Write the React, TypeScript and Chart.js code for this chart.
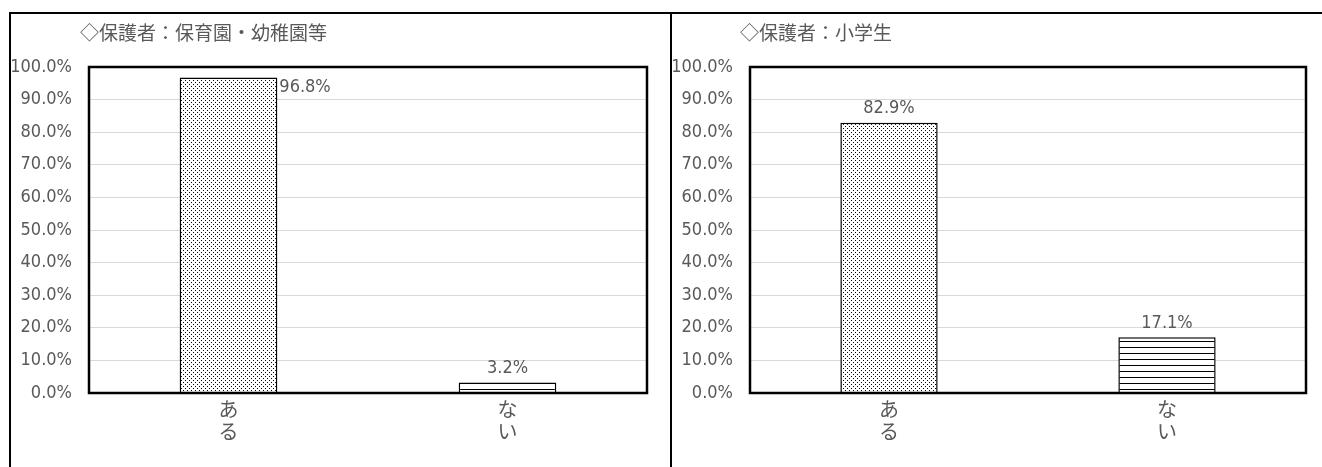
import React, { useEffect, useRef } from "react";
import { Chart, registerables } from "chart.js";

Chart.register(...registerables);

const CATEGORIES = ["ある", "ない"];
const LEFT_TITLE = "◇保護者：保育園・幼稚園等";
const LEFT_VALUES = [96.8, 3.2];
const RIGHT_TITLE = "◇保護者：小学生";
const RIGHT_VALUES = [82.9, 17.1];
const Y_MIN = 0;
const Y_MAX = 100;
const Y_STEP = 10;

const FONT = '"Noto Sans CJK JP", "Noto Sans", sans-serif';
const NUM_FONT = '"DejaVu Sans Condensed", "Noto Sans CJK JP", sans-serif';
const TEXT = "#595959";

function makeDots(): HTMLCanvasElement {
  const c = document.createElement("canvas");
  c.width = 4;
  c.height = 4;
  const x = c.getContext("2d")!;
  x.fillStyle = "#fff";
  x.fillRect(0, 0, 4, 4);
  x.fillStyle = "#000";
  x.fillRect(0, 0, 1, 1);
  x.fillRect(2, 2, 1, 1);
  return c;
}

function makeStripes(): HTMLCanvasElement {
  const c = document.createElement("canvas");
  c.width = 6;
  c.height = 6;
  const x = c.getContext("2d")!;
  x.fillStyle = "#fff";
  x.fillRect(0, 0, 6, 6);
  x.fillStyle = "#000";
  x.fillRect(0, 3, 6, 1);
  return c;
}

type PanelProps = {
  pageLeft: number;
  width: number;
  values: number[];
  title: string;
  titleLeft: number;
  labelSides: string[];
  padRight: number;
  axisWidth: number;
};

function Panel(p: PanelProps) {
  const ref = useRef<HTMLCanvasElement | null>(null);

  useEffect(() => {
    const canvas = ref.current!;
    const ctx = canvas.getContext("2d")!;
    const dots = ctx.createPattern(makeDots(), "repeat")!;
    const stripes = ctx.createPattern(makeStripes(), "repeat")!;

    const framePlugin = {
      id: "frame",
      afterDatasetsDraw(chart: any) {
        const { left, top, right, bottom } = chart.chartArea;
        const c = chart.ctx;
        c.save();
        c.strokeStyle = "#000";
        c.lineWidth = 2.5;
        c.strokeRect(left, top, right - left, bottom - top);
        c.restore();
      },
    };

    const labelPlugin = {
      id: "valueLabels",
      afterDraw(chart: any) {
        const c = chart.ctx;
        const meta = chart.getDatasetMeta(0);
        const data = chart.data.datasets[0].data as number[];
        c.save();
        c.fillStyle = TEXT;
        c.font = `18px ${NUM_FONT}`;
        meta.data.forEach((bar: any, i: number) => {
          const txt = data[i].toFixed(1) + "%";
          const side = p.labelSides[i];
          if (side === "right") {
            c.textAlign = "left";
            c.textBaseline = "top";
            c.fillText(txt, bar.x + bar.width / 2 + 2, bar.y + 1);
          } else {
            c.textAlign = "center";
            c.textBaseline = "bottom";
            c.fillText(txt, bar.x, bar.y - 5);
          }
        });
        c.restore();
      },
    };

    const chart = new Chart(canvas, {
      type: "bar",
      data: {
        labels: CATEGORIES.map((c) => c.split("")),
        datasets: [
          {
            data: p.values,
            backgroundColor: [dots, stripes] as any,
            borderColor: "#000",
            borderWidth: 1.5,
            barPercentage: 0.35,
            categoryPercentage: 1,
          },
        ],
      },
      options: {
        responsive: false,
        animation: false,
        layout: { padding: { top: 53, right: p.padRight, left: 0, bottom: 0 } },
        plugins: {
          legend: { display: false },
          tooltip: { enabled: false },
          title: { display: false },
        },
        scales: {
          x: {
            grid: { display: false, drawTicks: false },
            border: { display: false },
            ticks: {
              font: { family: FONT, size: 20, lineHeight: 1.1 },
              color: TEXT,
              padding: 5,
              maxRotation: 0,
              autoSkip: false,
            },
            afterFit: (s: any) => {
              s.height = 74;
            },
          },
          y: {
            min: Y_MIN,
            max: Y_MAX,
            ticks: {
              stepSize: Y_STEP,
              callback: (v: any) => Number(v).toFixed(1) + "%",
              font: { family: NUM_FONT, size: 18 },
              color: TEXT,
              padding: 17,
            },
            grid: { color: "#d9d9d9", lineWidth: 1, drawTicks: false },
            border: { display: false },
            afterFit: (s: any) => {
              s.width = p.axisWidth;
            },
          },
        },
      },
      plugins: [framePlugin, labelPlugin],
    });
    return () => chart.destroy();
  }, []);

  return (
    <>
      <canvas
        ref={ref}
        width={p.width}
        height={453}
        style={{ position: "fixed", left: p.pageLeft, top: 14, width: p.width, height: 453 }}
      />
      <div
        style={{
          position: "fixed",
          left: p.titleLeft,
          top: 20,
          fontFamily: FONT,
          fontSize: 19,
          lineHeight: "24px",
          color: TEXT,
          whiteSpace: "nowrap",
        }}
      >
        {p.title}
      </div>
    </>
  );
}

export default function App() {
  return (
    <div>
      <div
        style={{
          position: "fixed",
          left: 9,
          top: 12,
          width: 663,
          height: 480,
          borderTop: "2px solid #000",
          borderLeft: "2px solid #000",
          borderRight: "2px solid #000",
          boxSizing: "border-box",
        }}
      />
      <div
        style={{
          position: "fixed",
          left: 672,
          top: 12,
          width: 660,
          height: 2,
          background: "#000",
        }}
      />
      <Panel
        pageLeft={11}
        width={658}
        values={LEFT_VALUES}
        title={LEFT_TITLE}
        titleLeft={80}
        labelSides={["right", "top"]}
        padRight={22}
        axisWidth={78}
      />
      <Panel
        pageLeft={673}
        width={649}
        values={RIGHT_VALUES}
        title={RIGHT_TITLE}
        titleLeft={740}
        labelSides={["top", "top"]}
        padRight={16}
        axisWidth={77}
      />
    </div>
  );
}
